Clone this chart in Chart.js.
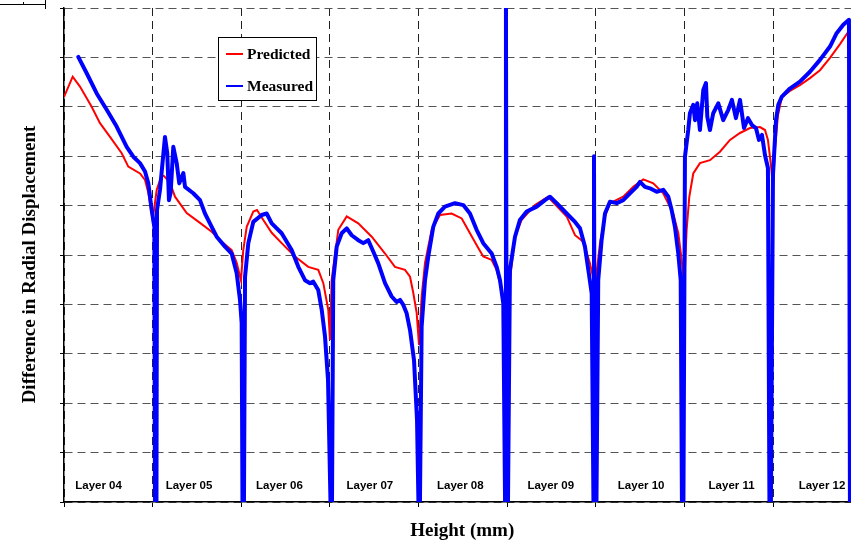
<!DOCTYPE html>
<html>
<head>
<meta charset="utf-8">
<script src="https://cdn.jsdelivr.net/npm/chart.js@4.4.0/dist/chart.umd.min.js"></script>
<style>
html, body { margin: 0; padding: 0; background: #fff; }
#wrap { width: 851px; height: 541px; }
</style>
</head>
<body>
<div id="wrap"><canvas id="chart"></canvas></div>
<script>
// layer names along the bottom, one per 10 mm
const layerNames = ['Layer 04', 'Layer 05', 'Layer 06', 'Layer 07', 'Layer 08', 'Layer 09', 'Layer 10', 'Layer 11', 'Layer 12'];

// predicted curve (red)
const predictedX = [0, 0.98, 1.80, 3.12, 4.06, 5.19, 6.51, 7.25, 8.57, 9.14,
    9.51, 10.00, 10.46, 11.02, 11.28, 11.96, 12.52, 13.84, 15.34, 16.66,
    17.79, 18.91, 19.48, 19.96, 20.22, 20.61, 21.35, 21.77, 22.48, 23.43,
    24.55, 26.05, 27.55, 28.68, 29.25, 29.81, 30.00, 30.19, 30.94, 31.89,
    33.19, 34.71, 36.21, 37.33, 38.46, 39.03, 39.40, 39.78, 40.04, 40.34,
    40.72, 41.47, 42.41, 43.73, 44.86, 45.79, 46.73, 47.29, 48.24, 48.80,
    49.37, 49.85, 50.30, 50.87, 51.62, 53.12, 54.59, 56.70, 57.64, 58.57,
    59.33, 59.89, 60.46, 61.02, 61.58, 63.08, 64.21, 65.34, 66.47, 67.59,
    68.72, 69.29, 69.67, 69.96, 70.23, 70.53, 70.98, 71.73, 72.86, 73.99,
    75.12, 76.25, 77.37, 78.50, 79.07, 79.40, 79.74, 79.97, 80.19, 80.53,
    80.98, 81.88, 83.01, 84.14, 85.27, 86.40, 87.53, 88.77];
const predictedY = [8.20, 8.61, 8.41, 8.00, 7.67, 7.39, 7.06, 6.79, 6.65, 6.52,
    6.26, 5.71, 6.32, 6.62, 6.60, 6.46, 6.18, 5.85, 5.65, 5.47,
    5.27, 5.10, 4.84, 4.49, 5.10, 5.57, 5.88, 5.91, 5.71, 5.45,
    5.24, 4.97, 4.76, 4.70, 4.43, 3.89, 3.28, 4.49, 5.51, 5.78,
    5.64, 5.37, 5.03, 4.76, 4.70, 4.56, 4.23, 3.83, 3.18, 4.16,
    4.84, 5.51, 5.81, 5.84, 5.74, 5.44, 5.14, 4.97, 4.90, 4.70,
    4.29, 3.83, 4.49, 5.37, 5.71, 6.01, 6.18, 5.78, 5.40, 5.27,
    4.83, 4.36, 5.24, 5.78, 6.05, 6.18, 6.38, 6.53, 6.45, 6.25,
    5.84, 5.44, 4.90, 4.39, 5.51, 6.18, 6.65, 6.86, 6.92, 7.09,
    7.33, 7.47, 7.57, 7.59, 7.53, 7.33, 6.82, 6.38, 7.13, 7.83,
    8.20, 8.32, 8.44, 8.58, 8.74, 8.99, 9.27, 9.60];

// measured curve (blue)
const measuredX = [1.61, 2.56, 3.69, 4.82, 5.94, 7.07, 7.82, 8.57, 9.14, 9.51,
    9.89, 10.19, 10.26, 10.43, 10.49, 10.83, 11.02, 11.39, 11.65, 11.84,
    12.03, 12.33, 12.71, 13.00, 13.46, 13.65, 14.58, 15.34, 15.90, 16.66,
    17.22, 18.16, 18.91, 19.48, 19.85, 20.04, 20.13, 20.30, 20.42, 20.79,
    21.35, 22.30, 22.86, 23.43, 24.55, 25.68, 26.43, 27.18, 27.75, 28.12,
    28.68, 29.07, 29.44, 29.78, 30.06, 30.23, 30.37, 30.76, 31.32, 31.89,
    32.45, 33.19, 33.76, 34.32, 34.88, 35.45, 36.21, 36.96, 37.52, 37.90,
    38.27, 38.65, 39.03, 39.48, 39.82, 39.98, 40.15, 40.34, 40.72, 41.09,
    41.65, 42.22, 42.97, 44.10, 45.04, 45.79, 46.54, 47.29, 48.24, 48.80,
    49.18, 49.55, 49.75, 49.85, 49.95, 50.08, 50.30, 50.87, 51.43, 52.19,
    53.32, 54.25, 54.82, 55.57, 56.70, 57.64, 58.20, 58.76, 59.14, 59.52,
    59.72, 59.78, 59.89, 60.06, 60.26, 60.64, 61.02, 61.58, 62.34, 63.08,
    63.84, 64.59, 64.97, 65.53, 66.09, 66.85, 67.59, 68.16, 68.54, 68.91,
    69.29, 69.56, 69.70, 69.87, 70.04, 70.41, 70.60, 70.98, 71.17, 71.43,
    71.73, 72.11, 72.41, 72.56, 72.86, 73.23, 73.80, 74.36, 74.93, 75.34,
    75.79, 76.25, 76.70, 77.15, 77.60, 78.05, 78.39, 78.73, 79.07, 79.40,
    79.57, 79.74, 79.97, 80.31, 80.57, 80.95, 81.88, 83.01, 84.14, 85.27,
    86.40, 87.15, 87.90, 88.54, 88.65];
const measuredY = [9.01, 8.68, 8.27, 7.94, 7.60, 7.19, 6.99, 6.86, 6.69, 6.45,
    5.91, 5.57, 0, 0, 5.91, 6.32, 6.69, 7.39, 7.06, 6.11,
    6.26, 7.19, 6.86, 6.45, 6.66, 6.38, 6.25, 6.11, 5.84, 5.57,
    5.37, 5.17, 5.03, 4.63, 4.09, 3.62, 0, 0, 4.56, 5.24,
    5.67, 5.81, 5.84, 5.64, 5.44, 5.10, 4.76, 4.49, 4.43, 4.46,
    4.29, 3.89, 3.35, 2.47, 0, 0, 4.49, 5.17, 5.44, 5.54,
    5.40, 5.30, 5.24, 5.30, 5.07, 4.83, 4.43, 4.16, 4.05, 4.09,
    3.99, 3.82, 3.48, 2.87, 1.66, 0, 0, 3.55, 4.49, 4.97,
    5.57, 5.84, 5.98, 6.05, 6.01, 5.84, 5.51, 5.24, 5.03, 4.76,
    4.49, 4.02, 0, 10, 0, 0, 4.70, 5.37, 5.71, 5.88,
    5.98, 6.11, 6.18, 6.05, 5.84, 5.67, 5.54, 5.17, 4.70, 4.22,
    0, 7.00, 0, 0, 4.49, 5.30, 5.84, 6.08, 6.05, 6.11,
    6.25, 6.38, 6.48, 6.38, 6.35, 6.28, 6.32, 6.18, 5.91, 5.57,
    5.03, 4.49, 0, 0, 6.99, 7.53, 7.87, 8.04, 7.73, 8.07,
    7.53, 8.34, 8.48, 7.80, 7.53, 7.87, 8.07, 7.73, 7.94, 8.14,
    7.77, 8.14, 7.57, 7.77, 7.63, 7.57, 7.33, 7.43, 7.02, 6.76,
    0, 0, 6.62, 7.73, 8.04, 8.20, 8.37, 8.51, 8.71, 8.95,
    9.22, 9.49, 9.66, 9.76, 0];

const toPoints = (xs, ys) => xs.map((x, i) => ({ x: x, y: ys[i] }));

const serif = '"Liberation Serif", "Times New Roman", serif';

// draws the layer names, the boxed legend and the little stray mark top left
const overlay = {
    id: 'overlay',
    afterDraw(chart) {
        const ctx = chart.ctx;
        const xs = chart.scales.x;
        const ys = chart.scales.y;
        const area = chart.chartArea;

        ctx.save();
        ctx.font = 'bold 11.5px "Liberation Sans", Arial, sans-serif';
        ctx.fillStyle = '#000';
        ctx.textAlign = 'center';
        ctx.textBaseline = 'middle';
        layerNames.forEach((name, i) => {
            ctx.fillText(name, xs.getPixelForValue(3.9 + i * 10.2), ys.getPixelForValue(0.32));
        });

        // legend
        const bx = area.left + 154;
        const by = area.top + 29;
        ctx.fillStyle = '#fff';
        ctx.fillRect(bx, by, 99, 63);
        ctx.strokeStyle = '#000';
        ctx.lineWidth = 1;
        ctx.strokeRect(bx + 0.5, by + 0.5, 98, 63);
        ctx.font = 'bold 15.5px ' + serif;
        ctx.textAlign = 'left';
        chart.data.datasets.forEach((ds, i) => {
            const ly = by + 17 + i * 32;
            ctx.strokeStyle = ds.borderColor;
            ctx.lineWidth = 2;
            ctx.beginPath();
            ctx.moveTo(bx + 8, ly);
            ctx.lineTo(bx + 25, ly);
            ctx.stroke();
            ctx.fillStyle = '#000';
            ctx.fillText(ds.label, bx + 29, ly + 1);
        });

        ctx.strokeStyle = '#000';
        ctx.lineWidth = 1;
        ctx.beginPath();
        ctx.moveTo(0, 4.5);
        ctx.lineTo(45, 4.5);
        ctx.moveTo(23.5, 2);
        ctx.lineTo(23.5, 4.5);
        ctx.moveTo(45.5, 0);
        ctx.lineTo(45.5, 9);
        ctx.stroke();
        ctx.restore();
    }
};

const ctx = document.getElementById('chart').getContext('2d');
// eslint-disable-next-line no-undef
new Chart(ctx, {
    type: 'line',
    data: {
        datasets: [{
            label: 'Predicted',
            data: toPoints(predictedX, predictedY),
            borderColor: '#ff0000',
            borderWidth: 2,
            pointRadius: 0,
            tension: 0,
            order: 2
        }, {
            label: 'Measured',
            data: toPoints(measuredX, measuredY),
            borderColor: '#0000ff',
            borderWidth: 4,
            borderJoinStyle: 'round',
            borderCapStyle: 'round',
            pointRadius: 0,
            tension: 0,
            order: 1
        }]
    },
    options: {
        responsive: true,
        maintainAspectRatio: false,
        animation: false,
        devicePixelRatio: 1,
        layout: { padding: { top: 8, left: 0, right: 0, bottom: 0 } },
        plugins: {
            legend: { display: false },
            tooltip: { enabled: false }
        },
        scales: {
            x: {
                type: 'linear',
                min: 0,
                max: 88.77,
                ticks: { display: false, stepSize: 10, includeBounds: false },
                grid: { color: '#222', tickColor: '#000', tickLength: 5 },
                border: { display: true, color: '#000', width: 1.5, dash: [8, 5] },
                title: {
                    display: true,
                    // leading spaces nudge it a little right, like the original
                    text: '  Height (mm)',
                    color: '#000',
                    font: { family: serif, size: 19, weight: 'bold', lineHeight: 1 },
                    padding: { top: 15, bottom: 0 }
                }
            },
            y: {
                min: 0,
                max: 10,
                ticks: { display: false, stepSize: 1 },
                grid: { color: '#555', tickColor: '#000', tickLength: 4 },
                border: { display: true, color: '#000', width: 1.5, dash: [8, 5] },
                title: {
                    display: true,
                    // trailing spaces push the text down a bit
                    text: 'Difference in Radial Displacement    ',
                    color: '#000',
                    font: { family: serif, size: 19, weight: 'bold', lineHeight: 1 },
                    padding: { top: 20.5, bottom: 20.5 }
                }
            }
        }
    },
    plugins: [overlay]
});
</script>
</body>
</html>
